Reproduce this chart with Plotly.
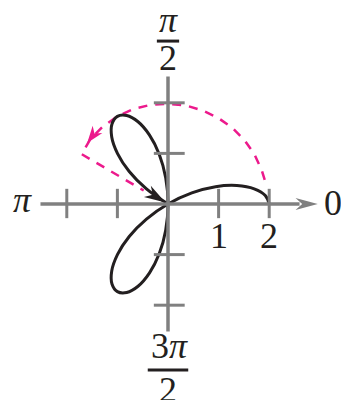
import numpy as np
import plotly.graph_objects as go

# r = 2cos(3θ) for 0 <= θ <= 5π/6
theta_deg = [0, 5, 10, 15, 20, 25, 30, 35, 40, 45, 50, 55, 60, 65, 70, 75,
             80, 85, 90, 95, 100, 105, 110, 115, 120, 125, 130, 135, 140, 145, 150]
r_vals = [2.0, 1.93, 1.73, 1.41, 1.0, 0.52, 0.0, -0.52, -1.0, -1.41, -1.73, -1.93,
          -2.0, -1.93, -1.73, -1.41, -1.0, -0.52, 0.0, 0.52, 1.0, 1.41, 1.73, 1.93,
          2.0, 1.93, 1.73, 1.41, 1.0, 0.52, 0.0]

# magenta dashed sweep of θ: arc out at r≈2, then back in along the last ray
sweep_theta = [14, 20, 30, 40, 50, 60, 70, 80, 90, 100, 110, 120, 130, 140, 150, 151]
sweep_r = [1.97, 1.97, 1.97, 1.97, 1.97, 1.97, 1.97, 1.98, 1.98, 1.99, 2.0, 2.0,
           2.0, 2.0, 1.97, 0.55]
sweep_arrow_theta = 143

tick_vals = [-2, -1, 1, 2]
tick_labels = ['1', '2']          # labels on the positive horizontal ticks
axis_len = 2.52

INK = '#231f20'
GRAY = '#808080'
PINK = '#ec1a8c'
FONT = 'Liberation Serif'


def to_xy(theta, r):
    t = np.radians(theta)
    r = np.asarray(r)
    return r * np.cos(t), r * np.sin(t)


def arrow_path(tip, ang, length, half, notch=0.3):
    d = np.array([np.cos(ang), np.sin(ang)])
    n = np.array([-d[1], d[0]])
    tip = np.asarray(tip, dtype=float)
    base = tip - length * d
    p1 = base + half * n
    p2 = base - half * n
    p3 = tip - (1 - notch) * length * d
    pts = [tip, p1, p3, p2]
    return 'M ' + ' L '.join(f'{p[0]:.4f},{p[1]:.4f}' for p in pts) + ' Z'


cx, cy = to_xy(theta_deg, r_vals)
sx, sy = to_xy(sweep_theta, sweep_r)

fig = go.Figure()
fig.add_trace(go.Scatter(x=sx, y=sy, mode='lines',
                         line=dict(color=PINK, width=2.5, dash='9px,8px')))
fig.add_trace(go.Scatter(x=cx, y=cy, mode='lines',
                         line=dict(color=INK, width=3, shape='spline')))

shapes = []
# axes
shapes.append(dict(type='line', x0=-axis_len, x1=2.6, y0=0, y1=0,
                   line=dict(color=GRAY, width=3.5)))
shapes.append(dict(type='line', x0=0, x1=0, y0=-axis_len, y1=axis_len,
                   line=dict(color=GRAY, width=3.5)))
shapes.append(dict(type='path', path=arrow_path((2.96, 0), 0, 0.44, 0.12),
                   fillcolor=GRAY, line=dict(width=0)))
for t in tick_vals:
    shapes.append(dict(type='line', x0=t, x1=t, y0=-0.28, y1=0.3,
                       line=dict(color=GRAY, width=3)))
    shapes.append(dict(type='line', x0=-0.28, x1=0.33, y0=t, y1=t,
                       line=dict(color=GRAY, width=3)))

# arrowheads on the sweep and on the curve
a = np.radians(sweep_arrow_theta)
tip = (2.0 * np.cos(a), 2.0 * np.sin(a))
shapes.append(dict(type='path', path=arrow_path(tip, a + np.pi / 2, 0.34, 0.12),
                   fillcolor=PINK, line=dict(width=0)))
end_ang = np.arctan2(cy[-1] - cy[-2], cx[-1] - cx[-2])
shapes.append(dict(type='path',
                   path=arrow_path((cx[-1] - 0.05, cy[-1] + 0.03), end_ang + 0.06, 0.42, 0.13),
                   fillcolor=INK, line=dict(width=0)))

# fraction bars for π/2 and 3π/2
shapes.append(dict(type='line', x0=-0.22, x1=0.22, y0=3.22, y1=3.22,
                   line=dict(color=INK, width=3)))
shapes.append(dict(type='line', x0=-0.40, x1=0.40, y0=-3.28, y1=-3.28,
                   line=dict(color=INK, width=3)))

font = dict(family=FONT, size=36, color=INK)
ann = []
for v, lab in zip([1, 2], tick_labels):
    ann.append(dict(x=v, y=-0.63, text=lab))
ann.append(dict(x=3.26, y=0.02, text='0'))
ann.append(dict(x=-2.87, y=0.08, text='<i>π</i>'))
ann.append(dict(x=0, y=3.64, text='<i>π</i>'))
ann.append(dict(x=0, y=2.88, text='2'))
ann.append(dict(x=0.02, y=-2.80, text='3<i>π</i>'))
ann.append(dict(x=0, y=-3.68, text='2'))
for d in ann:
    d.update(xref='x', yref='y', showarrow=False, font=font,
             xanchor='center', yanchor='middle')

fig.update_layout(
    width=341, height=400,
    margin=dict(l=0, r=0, t=0, b=0),
    paper_bgcolor='white', plot_bgcolor='white',
    showlegend=False,
    xaxis=dict(range=[-3.320, 3.419], visible=False),
    yaxis=dict(range=[-3.874, 4.032], visible=False),
    shapes=shapes,
    annotations=ann,
)

# drop the page's default body margin so the figure fills the window
fig.write_html('out.html', config={'displayModeBar': False},
               post_script="document.body.style.margin='0';"
                           "document.body.style.overflow='hidden';")
